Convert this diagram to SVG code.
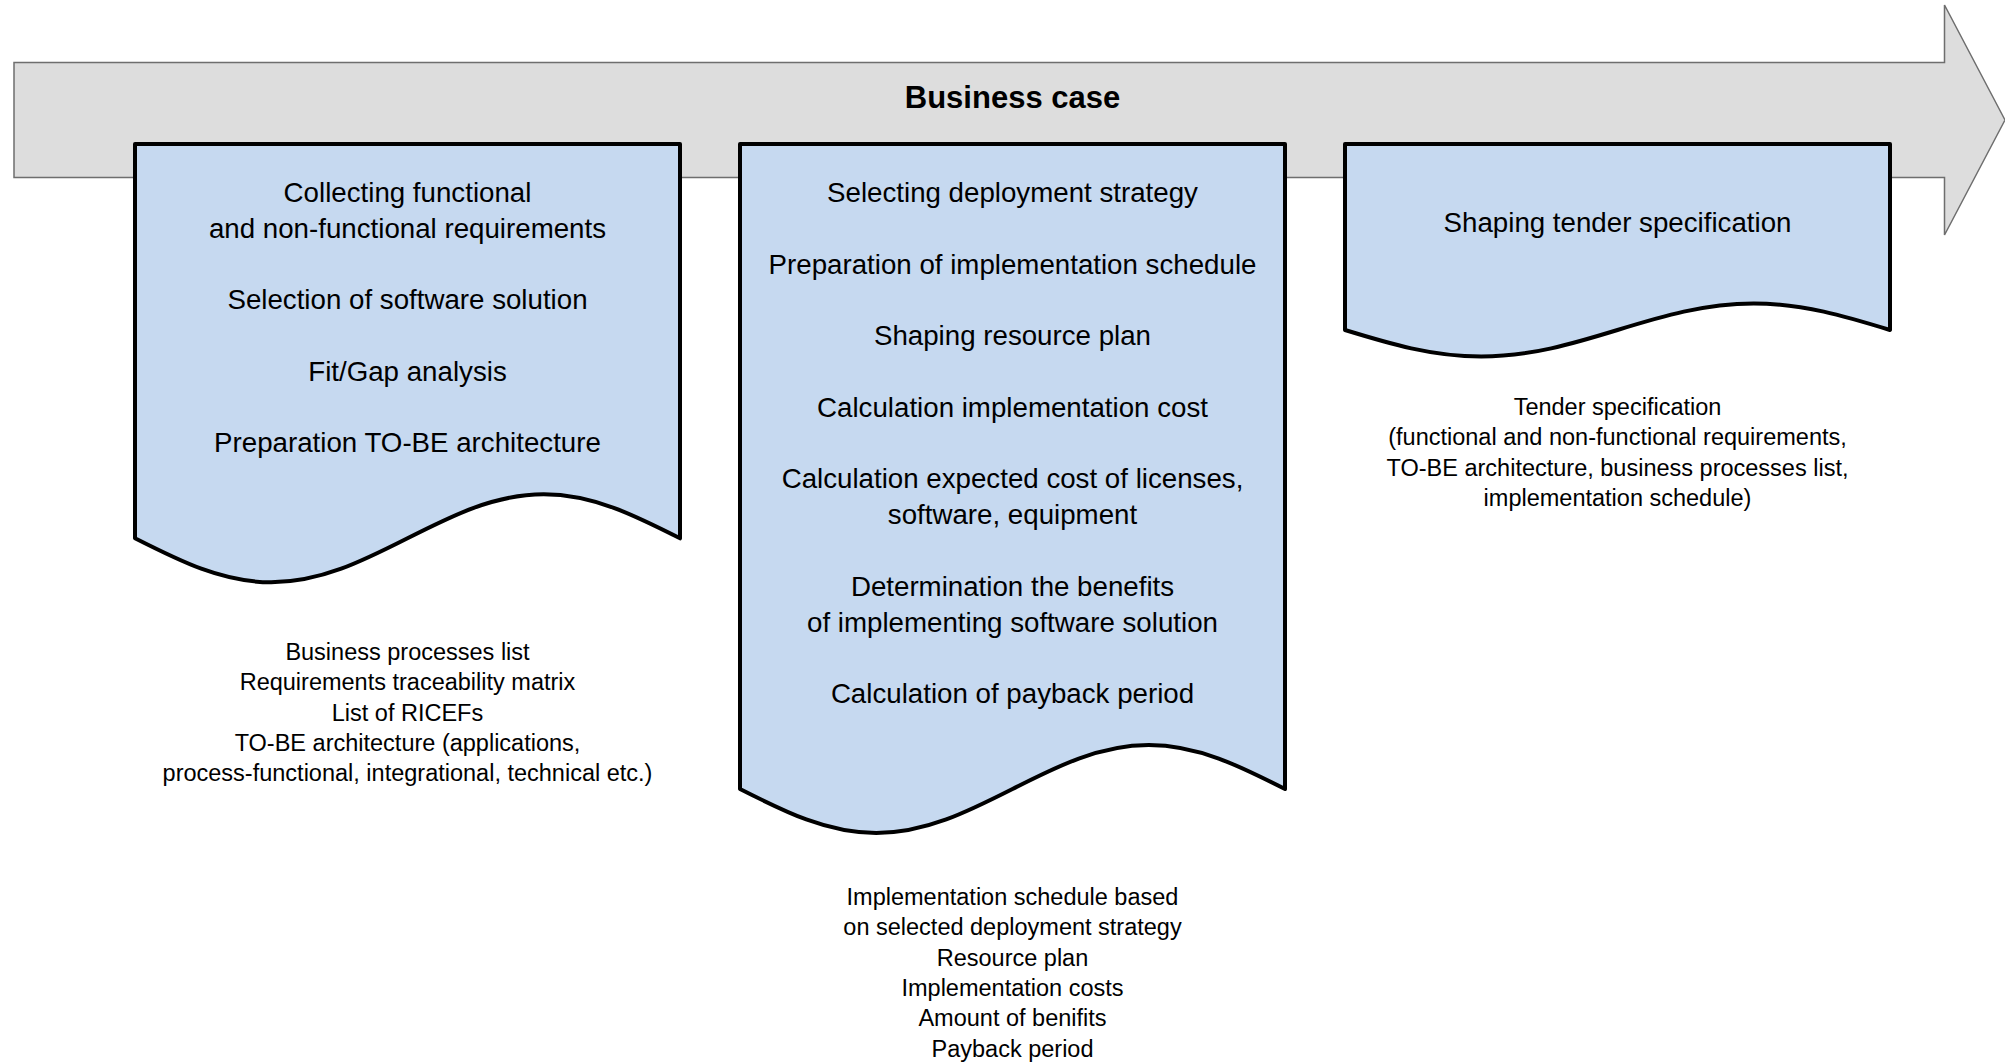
<svg xmlns="http://www.w3.org/2000/svg" width="2005" height="1064" viewBox="0 0 2005 1064">
  <style>
    .bg { fill: #ffffff; }
    .band { fill: #DDDDDD; stroke: #6E6E6E; stroke-width: 1.5; }
    .doc { fill: #C6D9F0; stroke: #000000; stroke-width: 4; stroke-linejoin: round; }
    .title { font-family: "Liberation Sans", Arial, sans-serif; font-weight: bold; font-size: 31px; fill: #000; text-anchor: middle; }
    .task { font-family: "Liberation Sans", Arial, sans-serif; font-size: 27.7px; fill: #000; text-anchor: middle; }
    .out { font-family: "Liberation Sans", Arial, sans-serif; font-size: 23.5px; fill: #000; text-anchor: middle; }
  </style>
  <rect class="bg" x="0" y="0" width="2005" height="1064"/>

  <g id="business-case">
    <path class="band" d="M14,62.5 H1944.5 V5 L2005,120 L1944.5,235 V177.5 H14 Z"/>
    <text class="title" x="1012.5" y="108">Business case</text>
  </g>

  <g id="connectors"></g>

  <!-- Box 1: L=135 R=680 yb=538.3 A=44 q=136.25 -->
  <g id="node-requirements">
    <path class="doc" d="M135,144 L135,538.3 C179.4,560.8 221.9,582.3 271.25,582.3 C320.6,582.3 363.1,560.8 407.5,538.3 C451.9,515.8 494.4,494.3 543.75,494.3 C593.1,494.3 635.6,515.8 680,538.3 L680,144 Z"/>
    <text class="task" x="407.5" y="202">Collecting functional</text>
    <text class="task" x="407.5" y="237.8">and non-functional requirements</text>
    <text class="task" x="407.5" y="309.4">Selection of software solution</text>
    <text class="task" x="407.5" y="381">Fit/Gap analysis</text>
    <text class="task" x="407.5" y="452.2">Preparation TO-BE architecture</text>
  </g>
  <g id="output-requirements">
    <text class="out" x="407.5" y="660">Business processes list</text>
    <text class="out" x="407.5" y="690.3">Requirements traceability matrix</text>
    <text class="out" x="407.5" y="720.6">List of RICEFs</text>
    <text class="out" x="407.5" y="750.9">TO-BE architecture (applications,</text>
    <text class="out" x="407.5" y="781.2">process-functional, integrational, technical etc.)</text>
  </g>

  <!-- Box 2: L=740 R=1285 yb=789 A=44 q=136.25 -->
  <g id="node-deployment">
    <path class="doc" d="M740,144 L740,789 C784.4,811.5 826.9,833 876.25,833 C925.6,833 968.1,811.5 1012.5,789 C1056.9,766.5 1099.4,745 1148.75,745 C1198.1,745 1240.6,766.5 1285,789 L1285,144 Z"/>
    <text class="task" x="1012.5" y="202">Selecting deployment strategy</text>
    <text class="task" x="1012.5" y="273.6">Preparation of implementation schedule</text>
    <text class="task" x="1012.5" y="345.2">Shaping resource plan</text>
    <text class="task" x="1012.5" y="416.8">Calculation implementation cost</text>
    <text class="task" x="1012.5" y="488.4">Calculation expected cost of licenses,</text>
    <text class="task" x="1012.5" y="524.2">software, equipment</text>
    <text class="task" x="1012.5" y="595.8">Determination the benefits</text>
    <text class="task" x="1012.5" y="631.6">of implementing software solution</text>
    <text class="task" x="1012.5" y="703.2">Calculation of payback period</text>
  </g>
  <g id="output-deployment">
    <text class="out" x="1012.5" y="905">Implementation schedule based</text>
    <text class="out" x="1012.5" y="935.3">on selected deployment strategy</text>
    <text class="out" x="1012.5" y="965.6">Resource plan</text>
    <text class="out" x="1012.5" y="995.9">Implementation costs</text>
    <text class="out" x="1012.5" y="1026.2">Amount of benifits</text>
    <text class="out" x="1012.5" y="1056.5">Payback period</text>
  </g>

  <!-- Box 3: L=1345 R=1890 yb=330 A=26.5 q=136.25 -->
  <g id="node-tender">
    <path class="doc" d="M1345,144 L1345,330 C1389.4,343.6 1431.9,356.5 1481.25,356.5 C1530.6,356.5 1573.1,343.6 1617.5,330 C1661.9,316.4 1704.4,303.5 1753.75,303.5 C1803.1,303.5 1845.6,316.4 1890,330 L1890,144 Z"/>
    <text class="task" x="1617.5" y="231.5">Shaping tender specification</text>
  </g>
  <g id="output-tender">
    <text class="out" x="1617.5" y="415">Tender specification</text>
    <text class="out" x="1617.5" y="445.3">(functional and non-functional requirements,</text>
    <text class="out" x="1617.5" y="475.6">TO-BE architecture, business processes list,</text>
    <text class="out" x="1617.5" y="505.9">implementation schedule)</text>
  </g>
</svg>
